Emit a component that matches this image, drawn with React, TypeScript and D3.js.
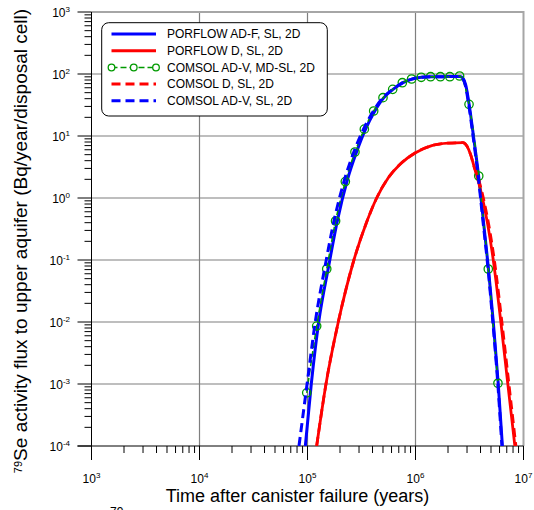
import React from 'react';
import * as d3 from 'd3';

// ---- data (time in years, activity flux in Bq/year/disposal cell) ----
const PORFLOW_ADF_T = [9.55e4, 1.084e5, 1.27e5, 1.57e5, 1.9e5, 2.32e5, 2.85e5, 3.45e5, 4.19e5, 5.07e5, 6.19e5, 7.59e5, 9.27e5, 1.135e6, 1.38e6, 2.0e6, 2.57e6, 2.75e6, 2.92e6, 3.13e6, 3.47e6, 3.85e6, 4.27e6, 4.73e6, 5.25e6, 5.82e6, 6.38e6];
const PORFLOW_ADF_V = [1e-4, 1e-3, 1e-2, 0.0794, 0.447, 1.862, 5.56, 12.9, 25.1, 41.2, 56.5, 72.1, 82.8, 88.3, 90.2, 90.8, 91.2, 85.1, 66.1, 33.1, 8.91, 2.19, 0.398, 0.0741, 0.01, 1.07e-3, 1e-4];

const PORFLOW_D_T = [1.216e5, 1.483e5, 1.928e5, 2.69e5, 3.51e5, 4.37e5, 5.62e5, 7.24e5, 1.0e6, 1.413e6, 2.0e6, 2.75e6, 2.99e6, 3.24e6, 3.47e6, 3.8e6, 4.17e6, 5.25e6, 6.17e6, 7.16e6, 8.32e6];
const PORFLOW_D_V = [1e-4, 1e-3, 0.01, 0.1, 0.398, 1, 2.14, 3.55, 5.37, 7.0, 7.67, 7.8, 6.92, 5.01, 3.31, 1.905, 1, 0.1, 0.01, 1e-3, 1e-4];

const COMSOL_ADV_MD_T = [9.84e4, 1.216e5, 1.507e5, 1.82e5, 2.24e5, 2.75e5, 3.36e5, 4.1e5, 5.0e5, 6.15e5, 7.55e5, 9.2e5, 1.13e6, 1.38e6, 1.70e6, 2.08e6, 2.56e6, 3.13e6, 3.85e6, 4.72e6, 5.8e6];
const COMSOL_ADV_MD_V = [7.2e-4, 8.6e-3, 0.0716, 0.426, 1.84, 5.52, 12.9, 25.3, 41.5, 56.6, 72.4, 83, 88.5, 90.4, 90.4, 90.4, 92.9, 32.4, 2.26, 0.0716, 1.03e-3];

const COMSOL_D_T = [1.216e5, 1.483e5, 1.928e5, 2.69e5, 3.51e5, 4.37e5, 5.62e5, 7.24e5, 1.0e6, 1.413e6, 2.0e6, 2.75e6, 2.99e6, 3.24e6, 3.47e6, 3.87e6, 4.25e6, 5.37e6, 6.31e6, 7.33e6, 8.51e6];
const COMSOL_D_V = [1e-4, 1e-3, 0.01, 0.1, 0.398, 1, 2.14, 3.55, 5.37, 7.0, 7.67, 7.8, 6.92, 5.01, 3.31, 1.905, 1, 0.1, 0.01, 1e-3, 1e-4];

const COMSOL_ADV_T = [8.34e4, 9.91e4, 1.18e5, 1.455e5, 1.77e5, 2.18e5, 2.69e5, 3.3e5, 4.06e5, 4.98e5, 6.15e5, 7.55e5, 9.23e5, 1.132e6, 1.384e6, 2.0e6, 2.54e6, 2.73e6, 2.89e6, 3.1e6, 3.44e6, 3.81e6, 4.23e6, 4.69e6, 5.2e6, 5.77e6, 6.31e6];
const COMSOL_ADV_V = [1e-4, 1e-3, 1e-2, 0.0794, 0.447, 1.862, 5.56, 12.9, 25.1, 41.2, 56.5, 72.1, 82.8, 88.3, 90.2, 90.8, 91.2, 85.1, 66.1, 33.1, 8.91, 2.19, 0.398, 0.0741, 0.01, 1.07e-3, 1e-4];

const X_EXPONENTS = [3, 4, 5, 6, 7];
const Y_EXPONENTS = [-4, -3, -2, -1, 0, 1, 2, 3];
const LEGEND_LABELS = ['PORFLOW AD-F, SL, 2D', 'PORFLOW D, SL, 2D', 'COMSOL AD-V, MD-SL, 2D', 'COMSOL D, SL, 2D', 'COMSOL AD-V, SL, 2D'];
const X_TITLE = 'Time after canister failure (years)';
const Y_TITLE = 'Se activity flux to upper aquifer (Bq/year/disposal cell)';

const zip = (t: number[], v: number[]) => t.map((d, i) => [d, v[i]] as [number, number]);

export default function App() {
  const W = 534, H = 510;
  const L = 91.5, R = 523.5, T = 12, B = 446;
  const x = d3.scaleLog().domain([1e3, 1e7]).range([L, R]);
  const y = d3.scaleLog().domain([1e-4, 1e3]).range([B, T]);
  const line = d3.line<[number, number]>().x(d => x(d[0])).y(d => y(d[1])).curve(d3.curveMonotoneX);
  const font = '"Liberation Sans", Arial, sans-serif';
  const BLUE = '#0000ff', RED = '#ff0000', GREEN = '#009a00';

  const minorX: number[] = [];
  for (let e = 3; e < 7; e++) for (let k = 2; k <= 9; k++) minorX.push(k * Math.pow(10, e));
  const minorY: number[] = [];
  for (let e = -4; e < 3; e++) for (let k = 2; k <= 9; k++) minorY.push(k * Math.pow(10, e));

  const circles = zip(COMSOL_ADV_MD_T, COMSOL_ADV_MD_V);

  const legendY = [34, 50.7, 67.5, 84, 100.7];
  const legX1 = 111.5, legX2 = 156, legTextX = 167;

  return (
    <svg width={W} height={H} style={{ position: 'absolute', left: 0, top: 0, background: '#fff' }} fontFamily={font}>
      <defs>
        <clipPath id="plotclip"><rect x={L} y={T} width={R - L} height={B - T} /></clipPath>
      </defs>
      {/* grid */}
      {X_EXPONENTS.slice(1, 4).map(e => (
        <line key={'gx' + e} x1={x(Math.pow(10, e))} x2={x(Math.pow(10, e))} y1={T} y2={B} stroke="#7f7f7f" strokeWidth={1.2} />
      ))}
      {Y_EXPONENTS.slice(1, 7).map(e => (
        <line key={'gy' + e} x1={L} x2={R} y1={y(Math.pow(10, e))} y2={y(Math.pow(10, e))} stroke="#7f7f7f" strokeWidth={1.2} />
      ))}
      <line x1={L} x2={R} y1={T} y2={T} stroke="#a6a6a6" strokeWidth={2} />
      <line x1={R} x2={R} y1={T - 1} y2={B} stroke="#a6a6a6" strokeWidth={2} />
      {/* axes */}
      <line x1={L} x2={L} y1={T} y2={B + 14} stroke="#000" strokeWidth={1} />
      <line x1={L - 14} x2={R} y1={B} y2={B} stroke="#000" strokeWidth={1} />
      {X_EXPONENTS.map(e => (
        <line key={'tx' + e} x1={x(Math.pow(10, e))} x2={x(Math.pow(10, e))} y1={B} y2={B + 14} stroke="#000" />
      ))}
      {minorX.map((v, i) => (
        <line key={'mx' + i} x1={x(v)} x2={x(v)} y1={B} y2={B + 7} stroke="#000" />
      ))}
      {Y_EXPONENTS.map(e => (
        <line key={'ty' + e} x1={L - 14} x2={L} y1={y(Math.pow(10, e))} y2={y(Math.pow(10, e))} stroke="#000" />
      ))}
      {minorY.map((v, i) => (
        <line key={'my' + i} x1={L - 7} x2={L} y1={y(v)} y2={y(v)} stroke="#000" />
      ))}
      {/* tick labels */}
      {X_EXPONENTS.map(e => (
        <text key={'lx' + e} x={x(Math.pow(10, e))} y={483} textAnchor="middle" fontSize={12} fill="#000">
          10<tspan dy={-5} fontSize={8}>{e}</tspan>
        </text>
      ))}
      {Y_EXPONENTS.map(e => (
        <text key={'ly' + e} x={70} y={y(Math.pow(10, e)) + 4.5} textAnchor="end" fontSize={12} fill="#000">
          10<tspan dy={-5} fontSize={8}>{e}</tspan>
        </text>
      ))}
      {/* titles */}
      <text x={297.5} y={502} textAnchor="middle" fontSize={18} fill="#000">{X_TITLE}</text>
      <text transform="translate(27,241) rotate(-90)" textAnchor="middle" fontSize={19} fill="#000">
        <tspan fontSize={11} dy={-5}>79</tspan><tspan dy={5}>{Y_TITLE}</tspan>
      </text>
      <text x={110} y={516} fontSize={12} fill="#000">79</text>
      {/* series */}
      <g clipPath="url(#plotclip)" fill="none" strokeLinejoin="round">
        <path d={line(zip(PORFLOW_ADF_T, PORFLOW_ADF_V)) || ''} stroke={BLUE} strokeWidth={3} />
        <path d={line(zip(PORFLOW_D_T, PORFLOW_D_V)) || ''} stroke={RED} strokeWidth={2.8} />
        <path d={line(circles) || ''} stroke={GREEN} strokeWidth={1.5} strokeDasharray="6,3" />
        {circles.map((d, i) => (
          <circle key={'c' + i} cx={x(d[0])} cy={y(d[1])} r={4.2} fill="none" stroke={GREEN} strokeWidth={1.3} />
        ))}
        <path d={line(zip(COMSOL_D_T, COMSOL_D_V)) || ''} stroke={RED} strokeWidth={2.8} strokeDasharray="9,5" />
        <path d={line(zip(COMSOL_ADV_T, COMSOL_ADV_V)) || ''} stroke={BLUE} strokeWidth={3} strokeDasharray="9,5" />
      </g>
      {/* legend */}
      <rect x={101.7} y={22.7} width={225.6} height={93.3} rx={7} fill="#fff" stroke="#000" strokeWidth={1} />
      <line x1={legX1} x2={legX2} y1={legendY[0]} y2={legendY[0]} stroke={BLUE} strokeWidth={3} />
      <line x1={legX1} x2={legX2} y1={legendY[1]} y2={legendY[1]} stroke={RED} strokeWidth={3} />
      <line x1={legX1} x2={legX2} y1={legendY[2]} y2={legendY[2]} stroke={GREEN} strokeWidth={1.5} strokeDasharray="6,3" />
      {[legX1, (legX1 + legX2) / 2, legX2].map((cx, i) => (
        <circle key={'lc' + i} cx={cx} cy={legendY[2]} r={3.3} fill="#fff" stroke={GREEN} strokeWidth={1.3} />
      ))}
      <line x1={legX1} x2={legX2} y1={legendY[3]} y2={legendY[3]} stroke={RED} strokeWidth={3} strokeDasharray="9,5" />
      <line x1={legX1} x2={legX2} y1={legendY[4]} y2={legendY[4]} stroke={BLUE} strokeWidth={3} strokeDasharray="9,5" />
      {LEGEND_LABELS.map((s, i) => (
        <text key={'lt' + i} x={legTextX} y={legendY[i] + 4.3} fontSize={12} fill="#000">{s}</text>
      ))}
    </svg>
  );
}
